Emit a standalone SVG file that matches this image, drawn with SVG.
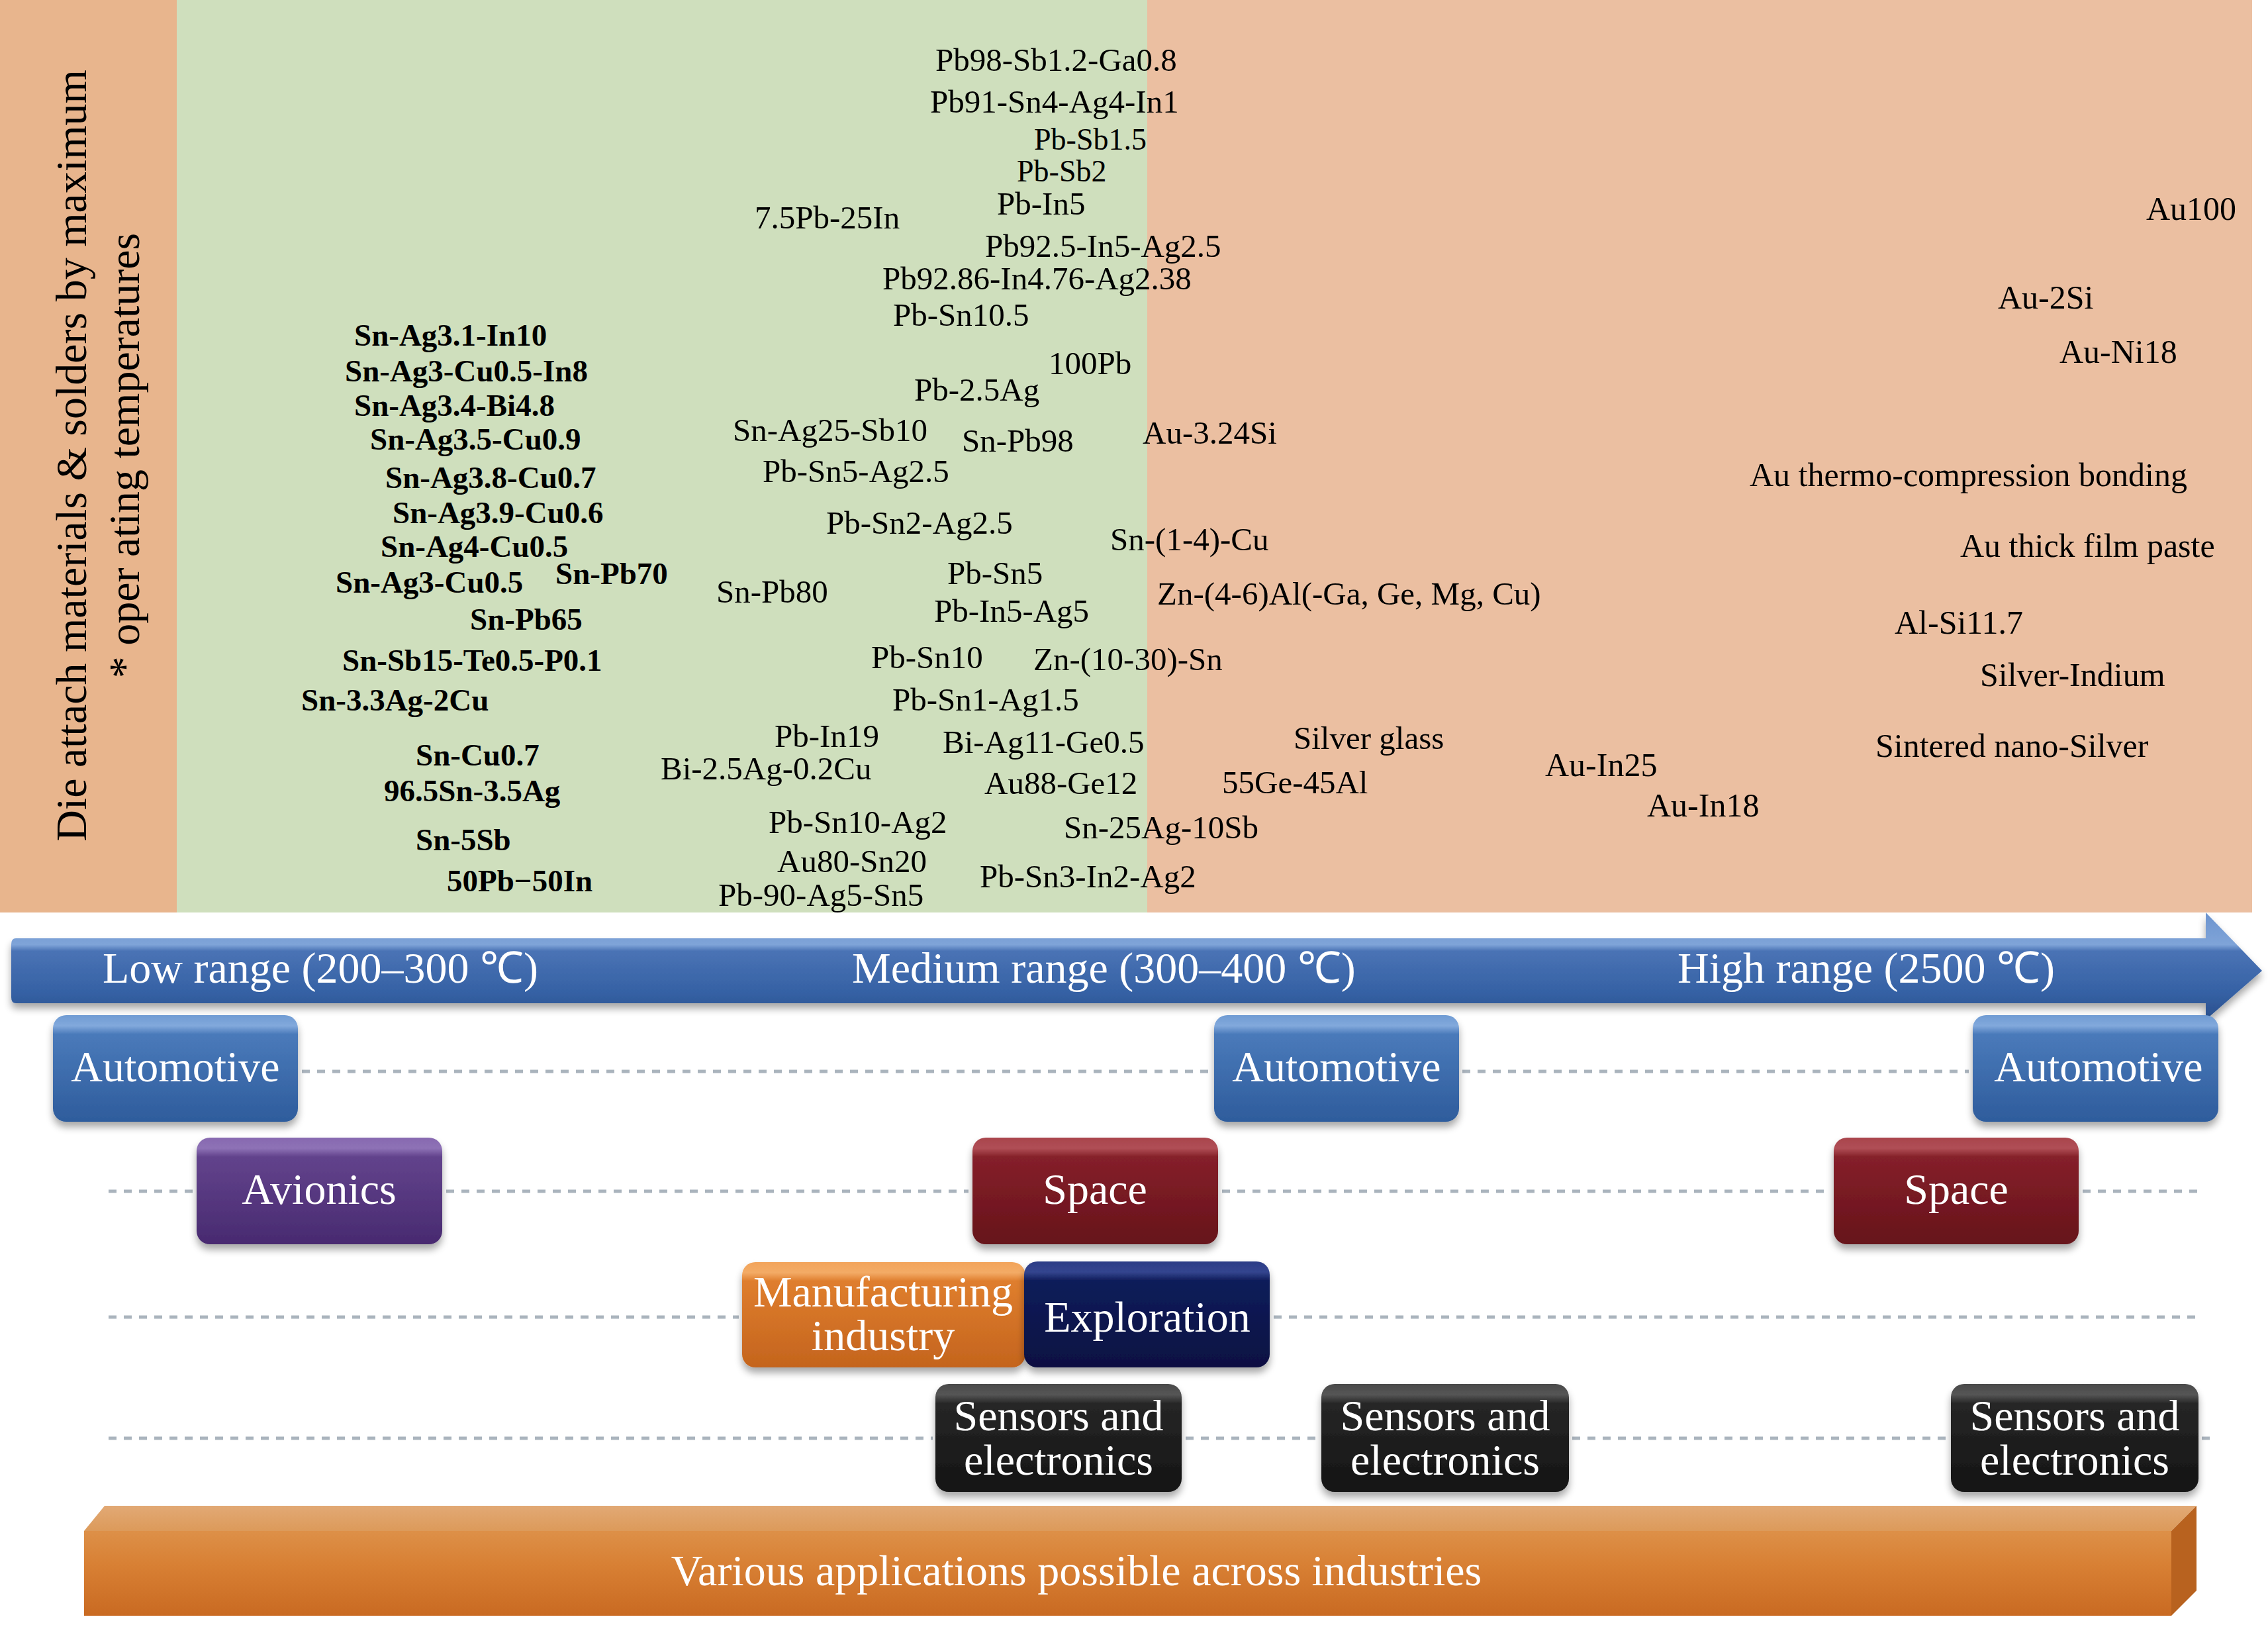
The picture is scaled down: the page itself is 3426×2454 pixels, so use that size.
<svg xmlns="http://www.w3.org/2000/svg" width="3426" height="2454" viewBox="0 0 3426 2454">
<defs>
<style>
.t{font-family:"Liberation Serif","Times New Roman",serif;fill:#000}
.lb{font-size:47px;font-weight:bold}
.md{font-size:49px}
.rt{font-size:50px}
.w{font-family:"Liberation Serif","Times New Roman",serif;fill:#fff;font-size:66px;text-anchor:middle}
.ax{font-family:"Liberation Serif","Times New Roman",serif;fill:#fff;font-size:66px}
.dot{stroke:#aab4bd;stroke-width:5;stroke-dasharray:12 11;fill:none}
</style>
<filter id="sh" x="-10%" y="-10%" width="120%" height="140%">
<feGaussianBlur in="SourceAlpha" stdDeviation="6"/>
<feOffset dx="0" dy="8" result="b"/>
<feComponentTransfer><feFuncA type="linear" slope="0.35"/></feComponentTransfer>
<feMerge><feMergeNode/><feMergeNode in="SourceGraphic"/></feMerge>
</filter>
<linearGradient id="gArrow" x1="0" y1="1378" x2="0" y2="1540" gradientUnits="userSpaceOnUse">
<stop offset="0" stop-color="#6c94cf"/><stop offset="0.3" stop-color="#7fa4d8"/><stop offset="0.36" stop-color="#4a73b5"/><stop offset="0.75" stop-color="#3561a4"/><stop offset="1" stop-color="#2a4f8c"/>
</linearGradient>
<linearGradient id="gBlue" x1="0" y1="0" x2="0" y2="1"><stop offset="0" stop-color="#6f9bd3"/><stop offset="0.1" stop-color="#82a9dc"/><stop offset="0.18" stop-color="#4a7aba"/><stop offset="1" stop-color="#2e5c9c"/></linearGradient>
<linearGradient id="gPurple" x1="0" y1="0" x2="0" y2="1"><stop offset="0" stop-color="#8769b0"/><stop offset="0.1" stop-color="#8e72b6"/><stop offset="0.18" stop-color="#62438c"/><stop offset="1" stop-color="#482a70"/></linearGradient>
<linearGradient id="gRed" x1="0" y1="0" x2="0" y2="1"><stop offset="0" stop-color="#a9444c"/><stop offset="0.1" stop-color="#b04f56"/><stop offset="0.18" stop-color="#85202a"/><stop offset="1" stop-color="#66121a"/></linearGradient>
<linearGradient id="gOrange" x1="0" y1="0" x2="0" y2="1"><stop offset="0" stop-color="#f2a45a"/><stop offset="0.1" stop-color="#f3ab66"/><stop offset="0.18" stop-color="#df7e2e"/><stop offset="1" stop-color="#c4641d"/></linearGradient>
<linearGradient id="gNavy" x1="0" y1="0" x2="0" y2="1"><stop offset="0" stop-color="#2c3c86"/><stop offset="0.1" stop-color="#34458f"/><stop offset="0.18" stop-color="#101d5a"/><stop offset="1" stop-color="#081042"/></linearGradient>
<linearGradient id="gBlack" x1="0" y1="0" x2="0" y2="1"><stop offset="0" stop-color="#4a4a4a"/><stop offset="0.1" stop-color="#555"/><stop offset="0.18" stop-color="#262626"/><stop offset="1" stop-color="#141414"/></linearGradient>
<linearGradient id="gBarFront" x1="0" y1="0" x2="0" y2="1"><stop offset="0" stop-color="#dd9048"/><stop offset="0.4" stop-color="#d88034"/><stop offset="1" stop-color="#c96a22"/></linearGradient>
<linearGradient id="gBarTop" x1="0" y1="0" x2="0" y2="1"><stop offset="0" stop-color="#e2a975"/><stop offset="1" stop-color="#dc9a5a"/></linearGradient>
</defs>

<g id="background">
<rect x="0" y="0" width="267" height="1378" fill="#e8b58d"/>
<rect x="267" y="0" width="1466" height="1378" fill="#cfdfbd"/>
<rect x="1733" y="0" width="1669" height="1378" fill="#ebbfa1"/>
</g>

<g id="axis-title">
<text class="t" font-size="66" text-anchor="middle" transform="translate(130,688) rotate(-90)">Die attach materials &amp; solders by maximum</text>
<text class="t" font-size="66" text-anchor="middle" transform="translate(210,688) rotate(-90)">* oper ating temperatures</text>
</g>

<g id="low-materials" class="t lb">
<text x="535" y="522">Sn-Ag3.1-In10</text>
<text x="521" y="576">Sn-Ag3-Cu0.5-In8</text>
<text x="535" y="628">Sn-Ag3.4-Bi4.8</text>
<text x="559" y="679">Sn-Ag3.5-Cu0.9</text>
<text x="582" y="737">Sn-Ag3.8-Cu0.7</text>
<text x="593" y="790">Sn-Ag3.9-Cu0.6</text>
<text x="575" y="841">Sn-Ag4-Cu0.5</text>
<text x="507" y="895">Sn-Ag3-Cu0.5</text>
<text x="839" y="882">Sn-Pb70</text>
<text x="710" y="951">Sn-Pb65</text>
<text x="517" y="1013">Sn-Sb15-Te0.5-P0.1</text>
<text x="455" y="1073">Sn-3.3Ag-2Cu</text>
<text x="628" y="1156">Sn-Cu0.7</text>
<text x="580" y="1210">96.5Sn-3.5Ag</text>
<text x="628" y="1284">Sn-5Sb</text>
<text x="675" y="1346">50Pb−50In</text>
</g>

<g id="medium-materials" class="t md">
<text x="1413" y="107">Pb98-Sb1.2-Ga0.8</text>
<text x="1405" y="170">Pb91-Sn4-Ag4-In1</text>
<text x="1562" y="226" font-size="46">Pb-Sb1.5</text>
<text x="1536" y="274" font-size="46">Pb-Sb2</text>
<text x="1506" y="324">Pb-In5</text>
<text x="1140" y="345">7.5Pb-25In</text>
<text x="1488" y="388">Pb92.5-In5-Ag2.5</text>
<text x="1333" y="437">Pb92.86-In4.76-Ag2.38</text>
<text x="1349" y="492">Pb-Sn10.5</text>
<text x="1584" y="565">100Pb</text>
<text x="1381" y="605">Pb-2.5Ag</text>
<text x="1107" y="666">Sn-Ag25-Sb10</text>
<text x="1453" y="682">Sn-Pb98</text>
<text x="1726" y="670">Au-3.24Si</text>
<text x="1152" y="728">Pb-Sn5-Ag2.5</text>
<text x="1248" y="806">Pb-Sn2-Ag2.5</text>
<text x="1677" y="831">Sn-(1-4)-Cu</text>
<text x="1431" y="882">Pb-Sn5</text>
<text x="1082" y="910">Sn-Pb80</text>
<text x="1748" y="913">Zn-(4-6)Al(-Ga, Ge, Mg, Cu)</text>
<text x="1411" y="939">Pb-In5-Ag5</text>
<text x="1316" y="1009">Pb-Sn10</text>
<text x="1561" y="1012">Zn-(10-30)-Sn</text>
<text x="1348" y="1073">Pb-Sn1-Ag1.5</text>
<text x="1170" y="1128">Pb-In19</text>
<text x="1424" y="1137">Bi-Ag11-Ge0.5</text>
<text x="1954" y="1131">Silver glass</text>
<text x="998" y="1177">Bi-2.5Ag-0.2Cu</text>
<text x="1487" y="1199">Au88-Ge12</text>
<text x="1846" y="1198">55Ge-45Al</text>
<text x="1161" y="1258">Pb-Sn10-Ag2</text>
<text x="1607" y="1266">Sn-25Ag-10Sb</text>
<text x="1174" y="1317">Au80-Sn20</text>
<text x="1480" y="1340">Pb-Sn3-In2-Ag2</text>
<text x="1085" y="1368">Pb-90-Ag5-Sn5</text>
</g>

<g id="high-materials" class="t rt">
<text x="3242" y="332">Au100</text>
<text x="3018" y="466">Au-2Si</text>
<text x="3111" y="548">Au-Ni18</text>
<text x="2643" y="734">Au thermo-compression bonding</text>
<text x="2961" y="841">Au thick film paste</text>
<text x="2862" y="957">Al-Si11.7</text>
<text x="2991" y="1036">Silver-Indium</text>
<text x="2833" y="1143">Sintered nano-Silver</text>
<text x="2334" y="1172">Au-In25</text>
<text x="2488" y="1233">Au-In18</text>
</g>

<g id="temperature-arrow">
<path d="M24,1417 L3332,1417 L3332,1378 L3417,1466 L3332,1540 L3332,1515 L24,1515 Q17,1515 17,1506 L17,1426 Q17,1417 24,1417 Z" fill="url(#gArrow)" filter="url(#sh)"/>
<text class="ax" x="155" y="1484">Low range (200–300 ℃)</text>
<text class="ax" x="1287" y="1484">Medium range (300–400 ℃)</text>
<text class="ax" x="2534" y="1484">High range (2500 ℃)</text>
</g>

<g id="connectors">
<line class="dot" x1="456" y1="1618" x2="1828" y2="1618"/>
<line class="dot" x1="2209" y1="1618" x2="2974" y2="1618"/>
<line class="dot" x1="164" y1="1799" x2="292" y2="1799"/>
<line class="dot" x1="674" y1="1799" x2="1463" y2="1799"/>
<line class="dot" x1="1846" y1="1799" x2="2765" y2="1799"/>
<line class="dot" x1="3146" y1="1799" x2="3326" y2="1799"/>
<line class="dot" x1="164" y1="1989" x2="1116" y2="1989"/>
<line class="dot" x1="1924" y1="1989" x2="3326" y2="1989"/>
<line class="dot" x1="164" y1="2172" x2="1409" y2="2172"/>
<line class="dot" x1="1791" y1="2172" x2="1992" y2="2172"/>
<line class="dot" x1="2375" y1="2172" x2="2944" y2="2172"/>
<line class="dot" x1="3326" y1="2172" x2="3346" y2="2172"/>
</g>

<g id="automotive-low">
<rect x="80" y="1533" width="370" height="161" rx="20" fill="url(#gBlue)" filter="url(#sh)"/>
<text class="w" x="265" y="1633">Automotive</text>
</g>
<g id="automotive-medium">
<rect x="1834" y="1533" width="370" height="161" rx="20" fill="url(#gBlue)" filter="url(#sh)"/>
<text class="w" x="2019" y="1633">Automotive</text>
</g>
<g id="automotive-high">
<rect x="2980" y="1533" width="371" height="161" rx="20" fill="url(#gBlue)" filter="url(#sh)"/>
<text class="w" x="3170" y="1633">Automotive</text>
</g>
<g id="avionics">
<rect x="297" y="1718" width="371" height="161" rx="20" fill="url(#gPurple)" filter="url(#sh)"/>
<text class="w" x="482" y="1818">Avionics</text>
</g>
<g id="space-medium">
<rect x="1469" y="1718" width="371" height="161" rx="20" fill="url(#gRed)" filter="url(#sh)"/>
<text class="w" x="1654" y="1818">Space</text>
</g>
<g id="space-high">
<rect x="2770" y="1718" width="370" height="161" rx="20" fill="url(#gRed)" filter="url(#sh)"/>
<text class="w" x="2955" y="1818">Space</text>
</g>
<g id="manufacturing-industry">
<rect x="1121" y="1906" width="428" height="159" rx="20" fill="url(#gOrange)" filter="url(#sh)"/>
<text class="w" x="1334" y="1973">Manufacturing</text>
<text class="w" x="1334" y="2039">industry</text>
</g>
<g id="exploration">
<rect x="1547" y="1905" width="371" height="160" rx="20" fill="url(#gNavy)" filter="url(#sh)"/>
<text class="w" x="1733" y="2011">Exploration</text>
</g>
<g id="sensors-low">
<rect x="1413" y="2090" width="372" height="163" rx="20" fill="url(#gBlack)" filter="url(#sh)"/>
<text class="w" x="1599" y="2160">Sensors and</text>
<text class="w" x="1599" y="2227">electronics</text>
</g>
<g id="sensors-medium">
<rect x="1996" y="2090" width="374" height="163" rx="20" fill="url(#gBlack)" filter="url(#sh)"/>
<text class="w" x="2183" y="2160">Sensors and</text>
<text class="w" x="2183" y="2227">electronics</text>
</g>
<g id="sensors-high">
<rect x="2947" y="2090" width="374" height="163" rx="20" fill="url(#gBlack)" filter="url(#sh)"/>
<text class="w" x="3134" y="2160">Sensors and</text>
<text class="w" x="3134" y="2227">electronics</text>
</g>

<g id="applications-bar">
<polygon points="127,2312 158,2274 3318,2274 3280,2312" fill="url(#gBarTop)"/>
<polygon points="3280,2312 3318,2274 3318,2402 3280,2440" fill="#b8621f"/>
<rect x="127" y="2312" width="3153" height="128" fill="url(#gBarFront)"/>
<text class="w" x="1626" y="2394">Various applications possible across industries</text>
</g>
</svg>
